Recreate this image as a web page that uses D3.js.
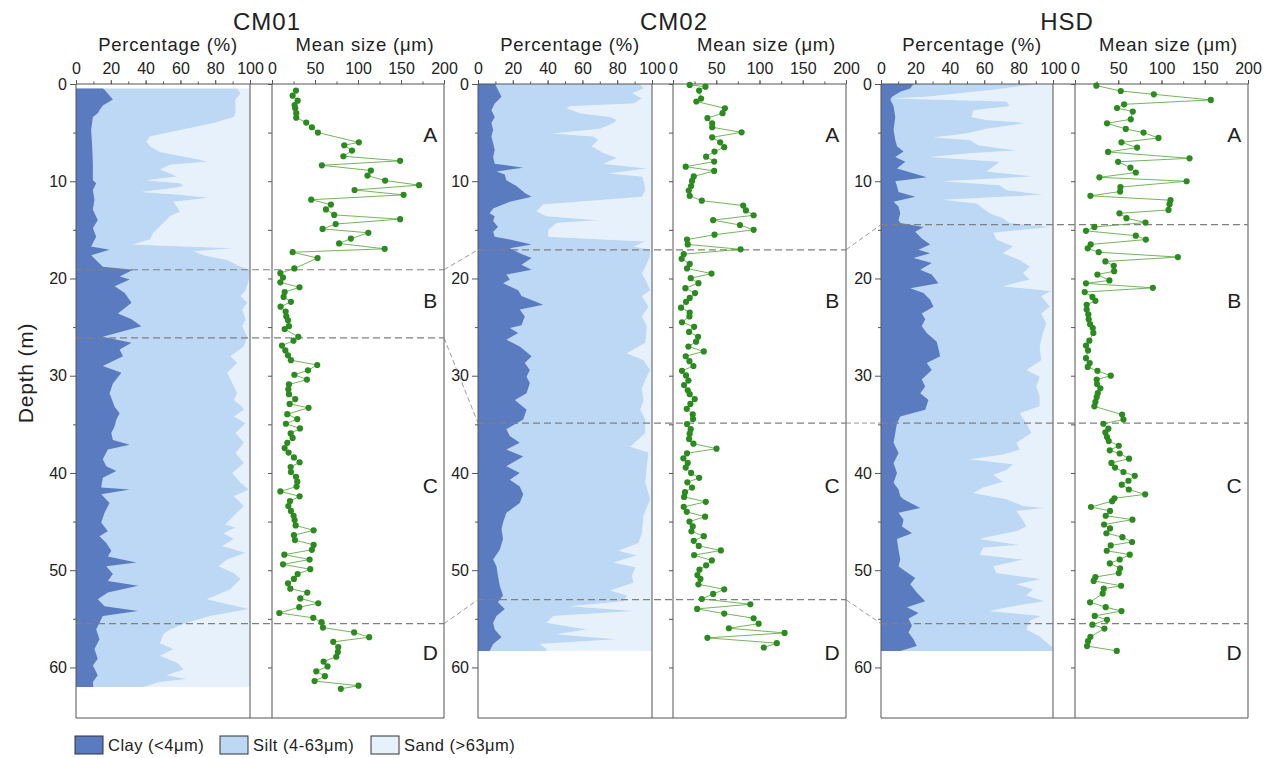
<!DOCTYPE html>
<html><head><meta charset="utf-8">
<script src="https://cdn.jsdelivr.net/npm/d3@7"></script>
<style>body{margin:0;background:#fff}svg{display:block;font-family:"Liberation Sans",Arial,Helvetica,sans-serif}</style>
</head><body><svg id="c" width="1276" height="758"></svg>
<script>
// ---------------- data ----------------
const coreNames = ["CM01", "CM02", "HSD"];
const pctTicks = [0, 20, 40, 60, 80, 100];
const meanTicks = [0, 50, 100, 150, 200];
const depthTicks = [0, 10, 20, 30, 40, 50, 60];
const zoneNames = ["A", "B", "C", "D"];
const zoneLabelDepth = [6, 23, 42.1, 59.2];
const legendNames = ["Clay (<4\u03bcm)", "Silt (4-63\u03bcm)", "Sand (>63\u03bcm)"];

const cm01Bounds = [19.1, 26.1, 55.5];
const cm02Bounds = [17.05, 34.87, 53.03];
const hsdBounds = [14.46, 34.87, 55.5];

// [depth (m), clay %]
const cm01Clay = [[0.45,15.4],[0.6,16.4],[1.6,21.2],[2.2,15.4],[2.7,13.5],[3.0,12.5],[3.4,9.7],[4.7,8.7],[6.4,9.3],[8.2,9.7],[9.9,9.7],[10.2,11.6],[10.9,9.7],[11.9,10.6],[12.9,9.7],[14.0,12.5],[14.8,9.7],[15.7,11.6],[16.7,8.7],[17.05,19.3],[17.6,8.7],[18.8,15.4],[19.1,32.8],[19.8,25.1],[20.1,30.9],[20.8,22.2],[21.5,28],[22.5,31.9],[23.6,24.1],[24.2,31.9],[24.9,37.6],[26.0,15.4],[26.6,31.9],[27.3,25.1],[28.0,27],[29.0,15.4],[29.7,26.1],[30.8,21.2],[31.8,19.3],[33.2,22.2],[33.85,25.1],[34.5,23.2],[35.2,22.2],[35.9,20.3],[36.6,21.2],[37.1,30.9],[37.6,18.3],[38.6,15.4],[39.3,17.4],[39.8,23.2],[40.5,15.4],[41.5,14.5],[41.7,30.9],[42.2,14.5],[43.1,19.3],[44.1,16.4],[45.1,14.5],[46.0,18.3],[46.5,13.5],[47.2,17.4],[48.0,20.3],[48.6,18.3],[49.2,34.7],[49.6,17.4],[50.4,21.2],[51.1,18.3],[51.6,35.7],[52.3,18.3],[53.0,12.5],[53.7,16.4],[54.2,35.7],[54.7,15.4],[55.4,13.5],[56.1,11.6],[57.1,13.5],[58.1,10.6],[59.1,12.5],[59.8,9.7],[60.8,12.5],[61.5,9.7],[62.0,10]];
// [depth (m), clay + silt %]
const cm01ClaySilt = [[0.45,92.7],[0.96,94.6],[1.6,91.7],[3.0,91.7],[3.4,90.7],[4.0,79.2],[5.4,42.5],[5.9,40.5],[6.4,42.5],[7.0,48.3],[7.8,71.4],[8.0,75.3],[8.3,54.1],[8.8,48.3],[9.2,54.1],[9.5,57.9],[9.9,40.5],[10.2,59.8],[10.5,61.8],[10.7,56],[11.1,37.6],[11.4,59.8],[11.7,76.3],[12.1,56],[12.6,57.9],[13.1,59.8],[13.6,54.1],[14.3,50.2],[15.0,46.3],[15.3,44.4],[16.0,42.5],[16.5,32.8],[16.9,90.7],[17.2,67.6],[17.6,73.4],[18.1,86.9],[18.8,94.6],[19.1,100],[20.1,99.4],[21.2,97.5],[21.8,94.6],[22.5,98.5],[23.2,95.6],[24.2,97.5],[24.9,95.6],[26.0,98.5],[27.0,96.5],[28.0,88.8],[28.7,92.7],[29.7,86.9],[30.4,88.8],[31.8,92.7],[32.5,90.7],[33.2,95.6],[33.5,96.5],[34.2,90.7],[34.9,97.5],[35.9,91.7],[36.9,96.5],[37.95,91.7],[38.97,96.5],[40.0,89.8],[41.0,94.6],[41.7,99.4],[42.4,90.7],[43.4,96.5],[44.4,90.7],[45.3,85.9],[45.6,91.7],[46.2,84.9],[46.8,90.7],[47.5,84],[48.2,97.5],[48.9,86.9],[49.6,82],[50.3,90.7],[50.9,94.6],[51.97,88.8],[53.0,75.3],[54.0,99.4],[54.7,77.2],[55.4,63.7],[56.1,54.1],[56.6,50.2],[57.5,48.3],[58.1,56],[58.8,48.3],[59.5,57.9],[60.2,61.8],[60.8,52.1],[61.2,63.7],[61.5,48.3],[62.0,38.6]];
// [depth (m), mean size um]
const cm01Mean = [[0.68,27.9],[1.2,24],[1.71,29.8],[2.16,26.3],[2.5,27],[3.0,28.2],[3.46,28.2],[3.97,39.8],[4.45,46.4],[5.0,53.4],[6.0,101],[6.3,84],[6.85,93],[7.43,83],[7.9,149],[8.36,58],[8.9,115],[9.42,111],[9.93,131.5],[10.4,171],[10.9,96],[11.4,153],[11.9,45.6],[12.4,68.5],[12.9,62.7],[13.46,72.3],[13.9,149],[14.4,74],[14.9,58.8],[15.3,112],[15.9,91.7],[16.4,78],[16.95,131],[17.3,24],[17.9,53],[18.97,26],[19.45,9.7],[19.9,12.8],[20.4,9.7],[20.9,32],[21.4,14.7],[21.9,13.5],[22.4,22],[22.9,10],[23.4,15.9],[23.9,16.6],[24.3,18.6],[24.9,19.7],[25.2,14.7],[26.0,30.6],[26.4,25],[26.9,11.6],[27.4,15.5],[27.9,18.6],[28.4,22],[28.9,52.6],[29.45,41.8],[29.9,26],[30.4,40.6],[30.9,19.7],[31.4,19],[31.9,19.7],[32.4,27],[32.9,20.5],[33.3,42.5],[33.95,17.8],[34.46,29.4],[34.94,16.2],[35.42,32.5],[35.93,21.7],[36.4,24],[36.9,17.8],[37.44,14.7],[37.9,19.3],[38.4,25.5],[38.9,32.1],[39.4,21.7],[39.9,22],[40.4,27.9],[40.9,29.4],[41.4,28.6],[41.9,9.7],[42.4,32.1],[42.9,20.9],[43.4,19],[43.9,22],[44.4,25.1],[44.85,26.3],[45.4,27.5],[45.9,48.4],[46.4,25.5],[46.9,26.7],[47.4,48.4],[47.9,46.4],[48.4,14.3],[48.9,43.7],[49.4,12.8],[49.9,44.5],[50.4,29.8],[50.9,25.5],[51.35,18.6],[51.9,21.3],[52.3,41],[52.9,32.9],[53.4,53.8],[53.8,31.7],[54.4,8.5],[54.9,48],[55.35,57.6],[55.9,59.2],[56.4,95.5],[56.89,113],[57.37,71.2],[57.9,77],[58.4,76.6],[58.9,74.7],[59.4,60],[59.9,64.6],[60.4,51.5],[60.9,61.5],[61.4,49.5],[61.88,100.6],[62.2,80]];

const cm02Clay = [[0,10],[0.27,10.6],[1.3,13.5],[2.0,9.6],[2.7,7.7],[3.4,9.6],[4.0,7.7],[4.7,8.7],[5.4,7.7],[6.1,8.7],[6.8,9.6],[7.5,8.7],[8.2,9.6],[8.6,26],[9.0,10.6],[9.3,15.4],[9.9,16.3],[10.5,22.1],[11.2,26.9],[11.6,30.8],[12.1,18.3],[12.8,8.7],[13.3,6.7],[13.6,9.6],[14.1,8.7],[14.7,11.5],[15.2,8.7],[15.7,9.6],[16.0,18.3],[16.5,30.8],[16.9,18.3],[17.4,24],[17.9,30.8],[18.6,25],[19.1,30.8],[19.6,16.3],[20.1,18.3],[20.5,14.4],[21.2,23.1],[21.8,25],[22.7,37.5],[23.2,24],[23.9,26.9],[24.8,25],[25.1,18.3],[25.6,23.1],[26.3,16.3],[27.0,24],[28.0,30.8],[28.7,26.9],[29.4,29.8],[30.1,27.9],[30.75,29.8],[31.8,27.9],[32.5,21.2],[33.5,27.9],[34.5,26],[35.5,16.3],[36.2,18.3],[36.9,24],[37.6,16.3],[38.3,26],[39.3,16.3],[40.0,24],[40.7,18.3],[41.4,24],[42.2,26],[43.1,24],[44.1,16.3],[45.1,14.4],[45.8,13.5],[46.8,14.4],[47.9,12.5],[48.9,8.7],[49.6,10.6],[50.6,11.5],[51.6,12.5],[52.6,14.4],[53.3,11.5],[54.0,15.4],[54.7,10.6],[55.4,8.7],[56.1,9.6],[56.9,13.5],[57.6,8.7],[58.3,6.7]];
const cm02ClaySilt = [[0,93],[0.45,95.2],[0.96,88.5],[1.5,94.2],[2.0,89.4],[2.3,52.9],[2.5,51],[3.0,58.7],[3.4,76],[3.7,79.8],[4.0,77.9],[4.6,70.2],[5.1,43.3],[5.4,66.3],[5.75,69.2],[6.4,65.4],[7.1,72.1],[7.6,79.8],[8.2,72.1],[8.7,97.1],[9.2,75],[9.5,94.2],[9.9,95.2],[10.9,96.2],[11.6,94.2],[12.4,37.5],[13.1,33.7],[13.6,39.4],[14.0,69.2],[14.3,45.2],[15.0,40.4],[15.7,40.4],[16.2,96.2],[16.7,89.4],[17.05,99],[17.7,99],[18.8,96.2],[19.45,94.2],[20.1,96.2],[21.2,99],[21.8,94.2],[22.9,98],[23.9,94.2],[24.9,97.1],[26.6,96.2],[27.7,85.6],[28.4,95.2],[29.4,99],[30.4,96.2],[31.4,94.2],[32.5,95.2],[33.5,93.3],[34.5,96.2],[35.9,96.2],[37.3,87.5],[37.9,98],[39.3,97.1],[41.0,96.2],[42.7,99],[44.4,95.2],[46.2,94.2],[47.2,92.3],[48.0,80.8],[48.5,91.3],[49.2,77.9],[49.7,90.4],[50.6,88.5],[51.3,89.4],[52.1,76],[52.6,85.6],[53.2,83.7],[53.7,52.9],[54.2,90.4],[54.7,43.3],[55.4,39.4],[56.1,62.5],[56.6,45.2],[57.1,79.8],[57.6,35.6],[58.1,39.4],[58.3,39.4]];
const cm02Mean = [[0.1,19.3],[0.27,37.5],[0.68,30.2],[1.5,32.5],[1.8,27],[2.5,60],[3.0,57.3],[3.5,39.8],[4.04,45.3],[4.45,45.3],[4.97,79.3],[5.48,45.3],[6.0,54.5],[6.5,59.2],[6.95,48],[7.47,38.3],[7.98,47.6],[8.5,14.7],[8.94,47.6],[9.5,24],[9.97,22],[10.5,20.9],[10.96,18.2],[11.5,19.3],[12.0,33.3],[12.5,81.2],[13.0,84.3],[13.5,93.2],[14.0,46.4],[14.5,77.4],[15.0,93.2],[15.5,48],[16.0,16.2],[16.5,17],[17.0,78.1],[17.5,12.4],[17.98,10],[18.5,19.3],[18.97,16.2],[19.5,44.5],[19.97,20.5],[20.48,29.4],[21.0,14.3],[21.5,25.5],[22.0,19.3],[22.4,15.1],[23.0,9.3],[23.5,19.3],[23.9,19],[24.5,10.4],[24.97,24.4],[25.5,18.6],[26.0,29],[26.5,26.7],[27.0,17.8],[27.5,35.6],[28.0,14.7],[28.5,19],[29.0,23.6],[29.5,10.4],[29.97,15.1],[30.5,17.8],[30.96,12.8],[31.5,17],[31.9,19.3],[32.4,25.1],[32.9,20.1],[33.4,15.9],[33.98,22.8],[34.46,23.2],[34.97,16.2],[35.5,20.5],[35.96,19.3],[36.5,18.6],[36.99,23.6],[37.5,50.3],[37.98,16.2],[38.5,12],[38.97,17],[39.45,14.7],[40.0,20.9],[40.5,30.2],[40.96,16.6],[41.5,22],[41.98,13.9],[42.46,12.8],[42.97,37.9],[43.49,12.4],[44.0,15.9],[44.5,37.1],[45.0,19],[45.5,22.8],[46.0,21.3],[46.5,35.6],[46.98,24],[47.5,29.8],[47.97,55.3],[48.45,24.4],[49.0,44.9],[49.5,38.3],[49.95,30.6],[50.5,28.2],[50.9,31.7],[51.45,29.4],[51.97,59.2],[52.44,46.4],[52.96,33.3],[53.5,89.4],[53.98,27.9],[54.46,59.2],[54.94,93.2],[55.5,99],[55.97,64.6],[56.45,129],[56.96,39.8],[57.5,120],[57.95,105]];

const hsdClay = [[0,18.9],[0.45,17],[0.8,11.2],[1.3,6.4],[1.6,5.4],[2.3,7.3],[3.4,8.3],[4.7,7.3],[5.75,8.3],[6.4,9.3],[6.95,13.1],[7.5,8.3],[8.0,14.1],[8.7,9.3],[9.6,26.6],[10.0,8.3],[10.5,9.3],[11.1,10.2],[11.6,19.9],[12.1,7.3],[12.6,10.2],[13.3,11.2],[14.0,10.2],[14.3,11.2],[14.7,24.7],[15.2,19.9],[15.9,23.7],[16.5,28.6],[17.05,21.8],[17.4,28.6],[17.9,18.9],[18.4,29.5],[19.1,22.8],[19.6,29.5],[20.5,33.4],[21.0,17],[21.5,24.7],[22.2,28.6],[22.9,30.5],[23.6,23.7],[24.2,25.7],[24.9,23.7],[25.6,26.6],[26.5,32.4],[27.2,33.4],[28.0,34.4],[28.7,26.6],[29.4,29.5],[30.4,23.7],[31.1,25.7],[31.8,22.8],[32.5,27.6],[33.5,25.7],[34.2,11.2],[34.9,9.3],[35.9,8.3],[36.9,7.3],[37.95,10.2],[39.0,7.3],[40.0,9.3],[41.0,7.3],[41.7,10.2],[42.4,11.2],[42.7,13.1],[43.6,22.8],[44.1,10.2],[44.8,13.1],[45.5,12.2],[46.2,18],[46.8,9.3],[47.9,10.2],[48.9,11.2],[49.6,10.2],[50.1,14.1],[50.8,19.9],[51.45,17],[52.3,20.8],[53.2,25.7],[53.8,15.1],[54.4,21.8],[55.0,16],[55.7,18],[56.4,16],[57.1,18.9],[57.8,20.8],[58.3,11.2]];
const hsdClaySilt = [[0,90.3],[0.6,65.3],[1.3,26.6],[1.5,7.3],[1.8,73],[2.3,74.9],[2.7,53.7],[3.4,52.7],[3.7,61.4],[4.0,84.6],[4.6,61.4],[5.1,49.8],[5.5,30.5],[5.75,51.7],[6.3,56.6],[6.85,78.8],[7.1,53.7],[7.5,28.6],[8.0,69.1],[8.5,65.3],[9.0,61.4],[9.5,88.4],[10.0,36.3],[10.4,69.1],[10.9,73],[11.4,94.2],[11.9,36.3],[12.3,55.6],[12.8,59.5],[13.3,63.3],[13.8,71],[14.3,74.9],[14.7,99],[15.3,65.3],[16.0,67.2],[16.7,76.8],[17.4,71],[18.1,80.7],[18.8,86.5],[19.45,82.6],[20.1,86.5],[20.8,71],[21.3,99],[21.8,93.2],[22.9,98.1],[23.6,93.2],[24.6,96.1],[25.6,94.2],[27.0,92.3],[28.4,93.2],[29.4,84.6],[30.1,92.3],[31.1,90.3],[32.1,92.3],[33.15,92.3],[33.85,80.7],[34.9,84.6],[35.9,87.5],[36.9,78.8],[37.6,80.7],[38.1,71],[38.6,51.7],[39.1,76.8],[39.7,73],[40.2,65.3],[40.9,71],[41.5,59.5],[42.05,53.7],[42.7,73],[43.4,82.6],[43.6,95.2],[43.9,78.8],[44.4,80.7],[44.9,82.6],[45.5,84.6],[46.0,78.8],[46.6,61.4],[46.8,57.5],[47.4,80.7],[47.7,59.5],[48.4,57.5],[48.9,82.6],[49.6,65.3],[50.3,67.2],[50.9,93.2],[51.45,78.8],[51.97,88.4],[52.6,84.6],[53.2,95.2],[53.7,76.8],[54.2,63.3],[54.7,93.2],[55.2,86.5],[56.1,84.6],[56.8,92.3],[57.4,96.1],[57.9,99.6],[58.3,99.6]];
const hsdMean = [[0.17,24.7],[0.72,52.9],[1.06,91.1],[1.64,157],[2.09,56.8],[2.47,48.6],[2.84,66.8],[3.63,64.5],[4.04,37],[4.62,58.7],[5.0,79.2],[5.55,96.5],[6.0,53.7],[6.54,71.8],[6.99,38.2],[7.64,132.4],[8.0,49.8],[8.6,64.1],[9.1,70.3],[9.6,28.2],[10.0,129],[10.6,52.5],[11.06,52.1],[11.5,17.8],[11.95,110.4],[12.36,109.3],[12.95,108.1],[13.3,51.4],[13.8,59.5],[14.25,81.5],[14.7,22.4],[15.1,12.7],[15.6,70.3],[16.0,81.9],[16.5,18.1],[16.9,14.7],[17.3,27.4],[17.8,118.9],[18.25,35.1],[18.7,44.8],[19.25,45.2],[19.6,25.9],[20.2,39.8],[20.5,12.7],[20.96,90],[21.4,11.2],[21.9,20.1],[22.3,23.6],[22.7,13.5],[23.2,13.5],[23.7,15.4],[24.2,15.8],[24.7,17.4],[25.1,20.5],[25.6,21.2],[26.4,16.6],[26.9,12.7],[27.4,15.1],[28.2,12.7],[28.7,17],[29.1,14.7],[29.5,25.9],[30.0,41.3],[30.4,25.1],[30.86,25.5],[31.3,29.3],[31.8,26.3],[32.2,25.1],[32.7,23.6],[33.15,22.4],[34.0,54.4],[34.5,56],[34.94,32.8],[35.45,38.6],[35.83,35.1],[36.3,37],[36.72,39],[37.2,50.6],[37.67,40.2],[38.0,51.7],[38.53,62.5],[38.97,42.1],[39.45,46.3],[39.9,56],[40.3,69.1],[40.8,61.8],[41.2,54],[41.7,62.2],[42.2,81.1],[42.6,45.6],[42.9,42.9],[43.5,18.5],[43.9,40.5],[44.4,35.5],[44.8,66.4],[45.3,33.6],[45.7,40.5],[46.2,36.3],[46.6,54.8],[47.1,66],[47.45,41.3],[48.0,36.7],[48.4,63.3],[48.9,51.7],[49.3,40.2],[49.8,52.1],[50.3,50.6],[50.7,23.6],[51.1,21.6],[51.6,53.3],[51.9,33.2],[52.4,32],[53.3,17.4],[53.8,35.5],[54.2,53.7],[54.7,22.8],[55.1,37],[55.6,20.1],[56.0,34],[56.85,17.8],[57.3,15.1],[57.8,13.9],[58.3,48.3]];

// ---------------- layout / style ----------------
const COL = {clay: "#5b7bc1", silt: "#bcd8f4", sand: "#e7f1fb", dot: "#2b8b1f", line: "#63ad4a", frame: "#555", text: "#222", dash: "#808080"};
const svg = d3.select("#c");
const y = d3.scaleLinear().domain([0, 65.2]).range([84, 718]);

const cores = [
  {name: coreNames[0], clay: cm01Clay, cum: cm01ClaySilt, mean: cm01Mean, bounds: cm01Bounds, px: [76, 250], mx: [272, 444], titleX: 267, depthLabel: true},
  {name: coreNames[1], clay: cm02Clay, cum: cm02ClaySilt, mean: cm02Mean, bounds: cm02Bounds, px: [478, 652], mx: [673, 846], titleX: 674},
  {name: coreNames[2], clay: hsdClay, cum: hsdClaySilt, mean: hsdMean, bounds: hsdBounds, px: [881, 1053], mx: [1075, 1248], titleX: 1067}
];

cores.forEach(c => {
  c.xp = d3.scaleLinear().domain([0, 100]).range(c.px);
  c.xm = d3.scaleLinear().domain([0, 200]).range(c.mx);
});

cores.forEach(c => {
  const g = svg.append("g");
  const xp = c.xp, xm = c.xm;
  // sand
  g.append("path").datum(c.cum)
    .attr("d", d3.area().y(d => y(d[0])).x0(d => xp(d[1])).x1(() => xp(100)))
    .attr("fill", COL.sand);
  // silt (drawn from 0 to clay+silt)
  g.append("path").datum(c.cum)
    .attr("d", d3.area().y(d => y(d[0])).x0(() => xp(0)).x1(d => xp(d[1])))
    .attr("fill", COL.silt);
  // clay
  g.append("path").datum(c.clay)
    .attr("d", d3.area().y(d => y(d[0])).x0(() => xp(0)).x1(d => xp(d[1])))
    .attr("fill", COL.clay);

  // frame
  const top = y(0), bot = y(65.2);
  const fr = g.append("g").attr("stroke", COL.frame).attr("stroke-width", 1).attr("fill", "none");
  fr.append("line").attr("x1", xp(0)).attr("x2", xm(200)).attr("y1", top).attr("y2", top);
  fr.append("line").attr("x1", xp(0)).attr("x2", xm(200)).attr("y1", bot).attr("y2", bot);
  [xp(0), xp(100), xm(0), xm(200)].forEach(x => fr.append("line").attr("x1", x).attr("x2", x).attr("y1", top).attr("y2", bot));

  // zone boundaries
  c.bounds.forEach(b => {
    g.append("line").attr("x1", xp(0)).attr("x2", xm(200)).attr("y1", y(b)).attr("y2", y(b))
      .attr("stroke", COL.dash).attr("stroke-width", 1.2).attr("stroke-dasharray", "7,4");
  });

  // mean size
  g.append("path").datum(c.mean)
    .attr("d", d3.line().x(d => xm(d[1])).y(d => y(d[0])))
    .attr("fill", "none").attr("stroke", COL.line).attr("stroke-width", 0.9);
  g.selectAll("circle.m").data(c.mean).join("circle").attr("class", "m")
    .attr("cx", d => xm(d[1])).attr("cy", d => y(d[0])).attr("r", 3.1)
    .attr("fill", COL.dot);

  // axes
  const styleAxis = sel => {
    sel.select(".domain").remove();
    sel.selectAll("line").attr("stroke", COL.frame);
    sel.selectAll("text").attr("fill", COL.text).style("font-size", "16px").style("font-family", '"Liberation Sans",Arial,sans-serif');
  };
  g.append("g").attr("transform", `translate(0,${top})`)
    .call(d3.axisTop(xp).tickValues(d3.range(0, 101, 10)).tickSize(2.5).tickFormat("")).call(styleAxis);
  g.append("g").attr("transform", `translate(0,${top})`)
    .call(d3.axisTop(xp).tickValues(pctTicks).tickSize(4).tickPadding(6)).call(styleAxis);
  g.append("g").attr("transform", `translate(0,${top})`)
    .call(d3.axisTop(xm).tickValues(d3.range(0, 201, 25)).tickSize(2.5).tickFormat("")).call(styleAxis);
  g.append("g").attr("transform", `translate(0,${top})`)
    .call(d3.axisTop(xm).tickValues(meanTicks).tickSize(4).tickPadding(6)).call(styleAxis);
  g.append("g").attr("transform", `translate(${xp(0)},0)`)
    .call(d3.axisLeft(y).tickValues(d3.range(5, 65, 10)).tickSize(3).tickFormat("")).call(styleAxis);
  g.append("g").attr("transform", `translate(${xp(0)},0)`)
    .call(d3.axisLeft(y).tickValues(depthTicks).tickSize(6).tickPadding(3)).call(styleAxis);
  g.append("g").attr("transform", `translate(${xm(0)},0)`)
    .call(d3.axisLeft(y).tickValues(d3.range(0, 65, 5)).tickSize(4).tickFormat("")).call(styleAxis);

  // titles
  g.append("text").attr("x", c.titleX).attr("y", 30).attr("text-anchor", "middle")
    .style("font-size", "24px").style("letter-spacing", "1px").attr("fill", COL.text).text(c.name);
  g.append("text").attr("x", (xp(0) + xp(100)) / 2 + 5).attr("y", 51).attr("text-anchor", "middle")
    .style("font-size", "18.5px").style("letter-spacing", "0.8px").attr("fill", COL.text).text("Percentage (%)");
  g.append("text").attr("x", (xm(0) + xm(200)) / 2 + 7).attr("y", 51).attr("text-anchor", "middle")
    .style("font-size", "18.5px").style("letter-spacing", "0.8px").attr("fill", COL.text).text("Mean size (\u03bcm)");

  // zone letters
  zoneNames.forEach((z, i) => {
    g.append("text").attr("x", xm(184)).attr("y", y(zoneLabelDepth[i])).attr("text-anchor", "middle")
      .style("font-size", "21px").attr("fill", COL.text).text(z);
  });

  if (c.depthLabel) {
    g.append("text").attr("transform", `translate(33,${(y(0) + y(65.2)) / 2 - 28}) rotate(-90)`)
      .attr("text-anchor", "middle").style("font-size", "21px").style("letter-spacing", "0.8px")
      .attr("fill", COL.text).text("Depth (m)");
  }
});

// connectors between cores
for (let i = 0; i < cores.length - 1; i++) {
  const a = cores[i], b = cores[i + 1];
  a.bounds.forEach((d, k) => {
    svg.append("line").attr("x1", a.xm(200)).attr("y1", y(d)).attr("x2", b.xp(0)).attr("y2", y(b.bounds[k]))
      .attr("stroke", COL.dash).attr("stroke-width", 0.8).attr("stroke-dasharray", "5,3");
  });
}

// legend
const legColors = [COL.clay, COL.silt, COL.sand];
const legX = [75, 220, 371];
const leg = svg.append("g");
legendNames.forEach((n, i) => {
  leg.append("rect").attr("x", legX[i]).attr("y", 736).attr("width", 28).attr("height", 18)
    .attr("fill", legColors[i]).attr("stroke", "#333").attr("stroke-width", 1);
  leg.append("text").attr("x", legX[i] + 33).attr("y", 751).style("font-size", "16.5px")
    .style("letter-spacing", "0.5px").attr("fill", COL.text).text(n);
});
</script></body></html>
